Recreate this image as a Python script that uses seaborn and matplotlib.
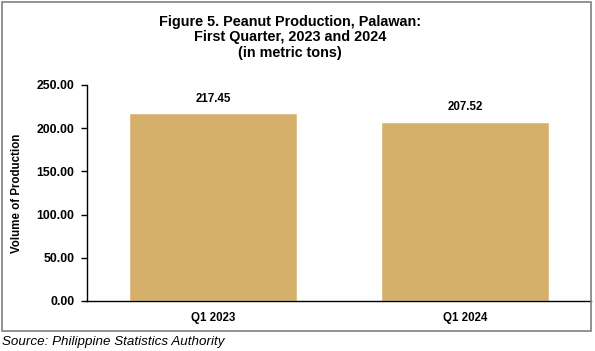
import matplotlib
matplotlib.use("Agg")
import matplotlib.pyplot as plt
import seaborn as sns
import pandas as pd
from matplotlib.patches import Rectangle

categories = ["Q1 2023", "Q1 2024"]
values = [217.45, 207.52]
yticks = [0, 50, 100, 150, 200, 250]

sns.set_style("white")
plt.rcParams['font.family'] = ['Liberation Sans', 'DejaVu Sans']
plt.rcParams['text.color'] = 'black'
plt.rcParams['xtick.color'] = 'black'
plt.rcParams['ytick.color'] = 'black'
plt.rcParams['axes.labelcolor'] = 'black'

df = pd.DataFrame({"Quarter": categories, "Volume": values})

fig = plt.figure(figsize=(5.95, 3.51), dpi=100)
ax = fig.add_axes([0.1462, 0.1425, 0.847, 0.6155])
sns.barplot(data=df, x="Quarter", y="Volume", color="#D5B06B", saturation=1,
            width=0.667, ax=ax)
ax.set_xlim(-0.5, 1.5)
ax.set_ylim(0, 250)
ax.set_yticks(yticks)
ax.set_yticklabels([f"{v:.2f}" for v in yticks], fontsize=8.8, fontweight="bold")
ax.set_xticks(range(len(categories)))
ax.set_xticklabels(categories, fontsize=8.3, fontweight="bold")
ax.set_xlabel("")
ax.set_ylabel("Volume of Production", fontsize=8.3, fontweight="bold", labelpad=10)
for s in ["top", "right"]:
    ax.spines[s].set_visible(False)
for s in ["left", "bottom"]:
    ax.spines[s].set_color("black")
    ax.spines[s].set_linewidth(1.0)
ax.tick_params(axis="y", length=4, width=1, color="black", left=True, pad=5)
ax.tick_params(axis="x", length=0, pad=8)
for c in ax.containers:
    ax.bar_label(c, labels=[f"{v:.2f}" for v in values], padding=6, fontsize=8.3,
                 fontweight="bold")

fig.text(0.488, 0.958, "Figure 5. Peanut Production, Palawan:\nFirst Quarter, 2023 and 2024\n(in metric tons)",
         ha="center", va="top", fontsize=10.4, fontweight="bold", linespacing=1.15)
fig.text(0.003, 0.025, "Source: Philippine Statistics Authority", ha="left", va="center",
         fontsize=9.6, style="italic")
fig.patches.append(Rectangle((0.004, 0.058), 0.99, 0.935, transform=fig.transFigure,
                             fill=False, edgecolor="#7f7f7f", linewidth=1.2))
fig.savefig("out.png", dpi=100)
